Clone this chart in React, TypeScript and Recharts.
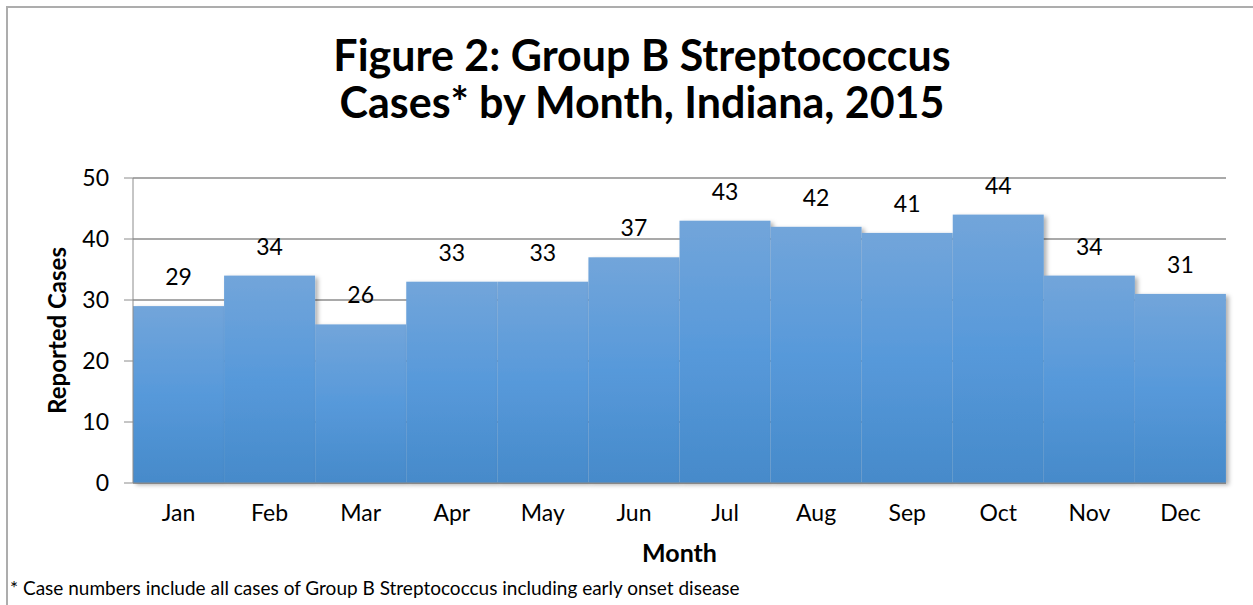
import { BarChart, Bar, XAxis, YAxis, CartesianGrid, LabelList, Label } from "recharts";

const months = ["Jan", "Feb", "Mar", "Apr", "May", "Jun", "Jul", "Aug", "Sep", "Oct", "Nov", "Dec"];
const cases = [29, 34, 26, 33, 33, 37, 43, 42, 41, 44, 34, 31];
const yTicks = [0, 10, 20, 30, 40, 50];

const titleLines = ["Figure 2: Group B Streptococcus", "Cases* by Month, Indiana, 2015"];
const footnote = "* Case numbers include all cases of Group B Streptococcus including early onset disease";

const data = months.map((month, i) => ({ month, cases: cases[i] }));

const font = "Lato, 'Open Sans', sans-serif";

const BarShape = (props: any) => {
  const { x, y, width, height } = props;
  return (
    <rect
      x={x}
      y={y}
      width={width}
      height={height}
      fill="url(#barFill)"
      filter="url(#barShadow)"
    />
  );
};

export default function App() {
  return (
    <div
      style={{
        position: "absolute",
        left: 0,
        top: 0,
        width: 1253,
        height: 605,
        background: "#fff",
        overflow: "hidden",
        fontFamily: font,
      }}
    >
      <div
        style={{
          position: "absolute",
          left: 6,
          top: 6,
          width: 1300,
          height: 700,
          border: "2px solid #adadad",
        }}
      />
      <div
        style={{
          position: "absolute",
          left: 0,
          top: 31,
          width: 1284,
          textAlign: "center",
          fontWeight: 700,
          fontSize: 43,
          lineHeight: "47px",
          color: "#000",
        }}
      >
        {titleLines.map((t) => (
          <div key={t}>{t}</div>
        ))}
      </div>
      <div
        style={{
          position: "absolute",
          left: 10,
          top: 576,
          fontSize: 19,
          color: "#000",
          whiteSpace: "nowrap",
        }}
      >
        {footnote}
      </div>
      <div style={{ position: "absolute", left: 0, top: 0 }}>
        <BarChart
          width={1253}
          height={605}
          data={data}
          margin={{ top: 178, right: 27, bottom: 0, left: 0 }}
          barCategoryGap={0}
        >
          <defs>
            <linearGradient id="barFill" x1="0" y1="0" x2="0" y2="1">
              <stop offset="0%" stopColor="#72a5da" />
              <stop offset="50%" stopColor="#5799da" />
              <stop offset="100%" stopColor="#468aca" />
            </linearGradient>
            <filter id="barShadow" x="-10%" y="-10%" width="130%" height="130%">
              <feDropShadow dx="3" dy="2" stdDeviation="2" floodColor="#000" floodOpacity="0.3" />
            </filter>
          </defs>
          <CartesianGrid vertical={false} stroke="#8c8c8c" strokeWidth={1.3} />
          <XAxis
            dataKey="month"
            height={122}
            tickLine={false}
            axisLine={{ stroke: "#8c8c8c" }}
            tickSize={0}
            tickMargin={22}
            tick={{ fill: "#000", fontSize: 23, fontFamily: font }}
          >
            <Label
              value="Month"
              position="insideTop"
              offset={61}
              style={{ fill: "#000", fontSize: 25, fontWeight: 700, fontFamily: font }}
            />
          </XAxis>
          <YAxis
            width={133}
            domain={[0, 50]}
            ticks={yTicks}
            interval={0}
            tickSize={9}
            tickMargin={15}
            axisLine={{ stroke: "#8c8c8c" }}
            tickLine={{ stroke: "#8c8c8c" }}
            tick={{ fill: "#000", fontSize: 23, fontFamily: font }}
          >
            <Label
              value="Reported Cases"
              angle={-90}
              position="center"
              dx={-9}
              style={{ fill: "#000", fontSize: 24, fontWeight: 700, fontFamily: font, textAnchor: "middle" }}
            />
          </YAxis>
          <Bar dataKey="cases" isAnimationActive={false} shape={BarShape}>
            <LabelList
              dataKey="cases"
              position="top"
              offset={21}
              style={{ fill: "#000", fontSize: 23, fontFamily: font }}
            />
          </Bar>
        </BarChart>
      </div>
    </div>
  );
}
